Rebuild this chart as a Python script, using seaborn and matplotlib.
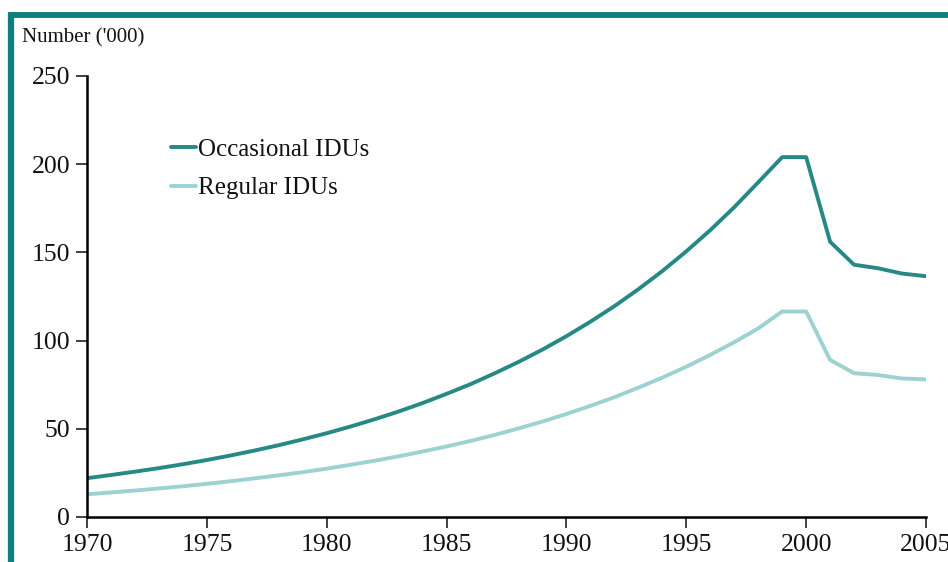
import numpy as np
import pandas as pd
import seaborn as sns
import matplotlib.pyplot as plt
from matplotlib.lines import Line2D

years = list(range(1970, 2006))
occasional = [22.0, 23.8, 25.7, 27.7, 29.9, 32.3, 34.9, 37.7, 40.7, 44.0,
              47.5, 51.3, 55.4, 59.8, 64.6, 69.8, 75.3, 81.4, 87.9, 94.9,
              102.5, 110.7, 119.5, 129.1, 139.4, 150.6, 162.6, 175.6, 189.7, 204.0,
              204.0, 156.0, 143.0, 141.0, 138.0, 136.5]
regular = [12.9, 13.9, 15.0, 16.2, 17.4, 18.8, 20.3, 21.9, 23.6, 25.4,
           27.4, 29.6, 31.9, 34.4, 37.1, 40.0, 43.1, 46.5, 50.2, 54.1,
           58.4, 63.0, 67.9, 73.3, 79.0, 85.2, 91.9, 99.1, 106.9, 116.5,
           116.5, 89.0, 81.5, 80.5, 78.5, 78.0]
series_names = ["Occasional IDUs", "Regular IDUs"]
xticks = [1970, 1975, 1980, 1985, 1990, 1995, 2000, 2005]
yticks = [0, 50, 100, 150, 200, 250]

df = pd.DataFrame({
    "Year": years * 2,
    "Value": occasional + regular,
    "Series": [series_names[0]] * len(years) + [series_names[1]] * len(years),
})

sns.set_theme(style="white")
plt.rcParams['font.family'] = ['Liberation Serif', 'DejaVu Serif']

fig = plt.figure(figsize=(9.48, 5.62), dpi=100)
ax = fig.add_axes([0.0918, 0.0801, 0.8850, 0.7847])

palette = {series_names[0]: "#268985", series_names[1]: "#9dd2d2"}
sns.lineplot(data=df, x="Year", y="Value", hue="Series", palette=palette,
             linewidth=2.8, ax=ax)

ax.set_xlim(1970, 2005)
ax.set_ylim(0, 250)
ax.set_xticks(xticks)
ax.set_yticks(yticks)
ax.set_xlabel("")
ax.set_ylabel("")
for s in ["top", "right"]:
    ax.spines[s].set_visible(False)
for s in ["left", "bottom"]:
    ax.spines[s].set_color("black")
    ax.spines[s].set_linewidth(1.8)
ax.tick_params(axis="both", which="both", direction="out", length=8, width=1.3,
               color="#333333", labelsize=18.5, labelcolor="#111111", pad=4,
               left=True, bottom=True)
for lab in ax.get_xticklabels() + ax.get_yticklabels():
    lab.set_clip_on(False)

leg = ax.legend(loc="upper left", bbox_to_anchor=(0.088, 0.881), frameon=False,
                fontsize=18, handlelength=1.0, handletextpad=0.1,
                labelspacing=0.64, borderaxespad=0)
for t in leg.get_texts():
    t.set_color("#111111")

fig.text(22 / 948, 1 - 38 / 562, "Number ('000)", fontsize=15, va="center",
         ha="left", color="#111111")

frame_color = "#0d7f7c"
fig.add_artist(Line2D([8 / 948, 1.0], [1 - 14.5 / 562, 1 - 14.5 / 562],
                      transform=fig.transFigure, color=frame_color,
                      linewidth=4.2, solid_capstyle="butt"))
fig.add_artist(Line2D([11 / 948, 11 / 948], [1 - 12 / 562, 0.0],
                      transform=fig.transFigure, color=frame_color,
                      linewidth=4.5, solid_capstyle="butt"))

fig.savefig("out.png", dpi=100)
